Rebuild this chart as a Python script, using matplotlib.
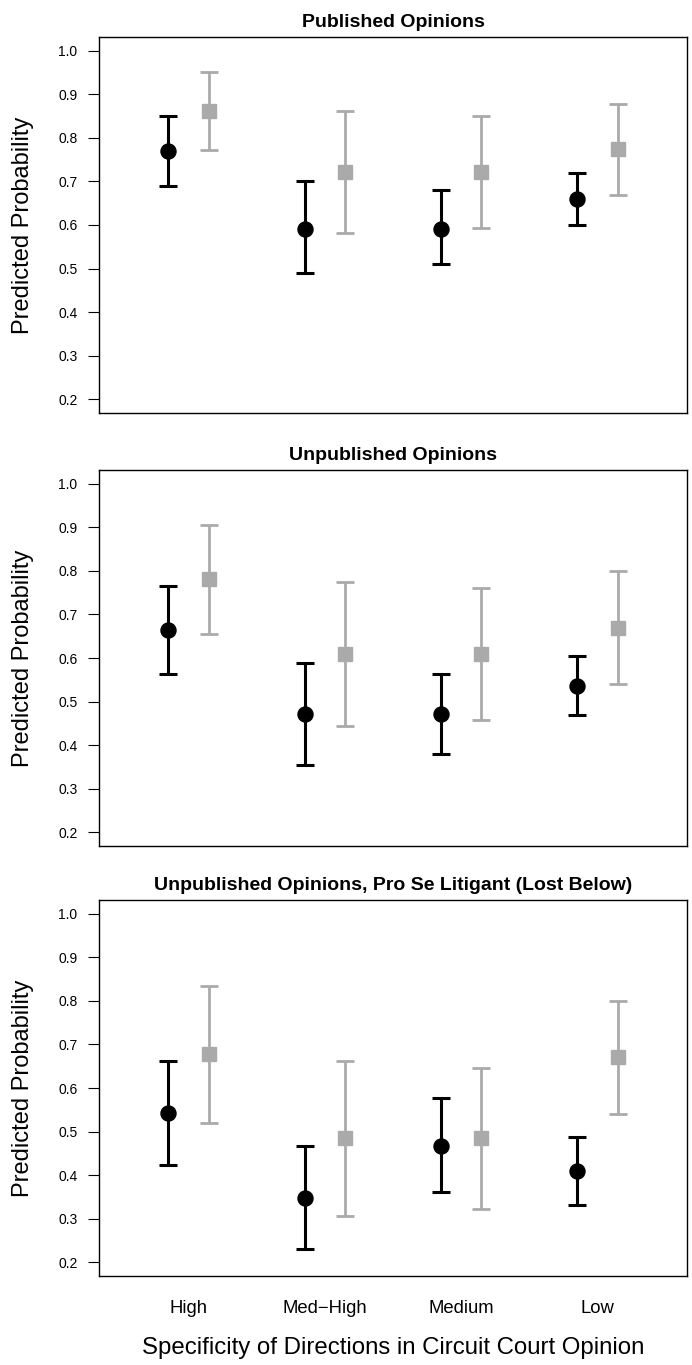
import numpy as np
import matplotlib
matplotlib.use("Agg")
import matplotlib.pyplot as plt

plt.rcParams['font.family'] = ['Liberation Sans', 'DejaVu Sans']

# categories on the x axis
categories = ["High", "Med\u2212High", "Medium", "Low"]
titles = ["Published Opinions",
          "Unpublished Opinions",
          "Unpublished Opinions, Pro Se Litigant (Lost Below)"]

# black circles: estimate, lower, upper
pub_black = [0.77, 0.59, 0.59, 0.66]
pub_black_lo = [0.69, 0.49, 0.51, 0.60]
pub_black_hi = [0.85, 0.70, 0.68, 0.72]
# grey squares
pub_gray = [0.862, 0.722, 0.722, 0.775]
pub_gray_lo = [0.772, 0.582, 0.594, 0.670]
pub_gray_hi = [0.952, 0.862, 0.850, 0.879]

unpub_black = [0.664, 0.471, 0.471, 0.536]
unpub_black_lo = [0.564, 0.354, 0.379, 0.468]
unpub_black_hi = [0.765, 0.589, 0.564, 0.604]
unpub_gray = [0.781, 0.609, 0.609, 0.670]
unpub_gray_lo = [0.656, 0.443, 0.458, 0.540]
unpub_gray_hi = [0.906, 0.775, 0.762, 0.801]

prose_black = [0.542, 0.348, 0.467, 0.410]
prose_black_lo = [0.423, 0.229, 0.360, 0.332]
prose_black_hi = [0.662, 0.467, 0.577, 0.488]
prose_gray = [0.677, 0.484, 0.484, 0.672]
prose_gray_lo = [0.520, 0.305, 0.323, 0.541]
prose_gray_hi = [0.834, 0.663, 0.646, 0.801]

panels = [
    (pub_black, pub_black_lo, pub_black_hi, pub_gray, pub_gray_lo, pub_gray_hi),
    (unpub_black, unpub_black_lo, unpub_black_hi, unpub_gray, unpub_gray_lo, unpub_gray_hi),
    (prose_black, prose_black_lo, prose_black_hi, prose_gray, prose_gray_lo, prose_gray_hi),
]

W, H = 692, 1365
fig = plt.figure(figsize=(W / 100, H / 100), dpi=100)

left = 99 / W
width = 588 / W
ax_h = 376 / H
bottoms = [1 - 413 / H, 1 - 846 / H, 1 - 1276 / H]

gray = "#aaaaaa"
x = np.arange(1, len(categories) + 1)
off = 0.15

for i, (b, b_lo, b_hi, g, g_lo, g_hi) in enumerate(panels):
    ax = fig.add_axes([left, bottoms[i], width, ax_h])
    b = np.array(b)
    g = np.array(g)
    ax.errorbar(x - off, b, yerr=[b - np.array(b_lo), np.array(b_hi) - b],
                fmt='o', color='black', ms=10.8, elinewidth=2.2,
                capsize=6.8, capthick=2.2)
    ax.errorbar(x + off, g, yerr=[g - np.array(g_lo), np.array(g_hi) - g],
                fmt='s', color=gray, ms=10.5, elinewidth=2.0,
                capsize=6.8, capthick=2.0)

    ax.set_xlim(0.34, 4.66)
    ax.set_ylim(0.168, 1.032)
    ax.set_yticks(np.arange(0.2, 1.01, 0.1))
    ax.set_yticklabels([f"{v:.1f}" for v in np.arange(0.2, 1.01, 0.1)])
    ax.tick_params(axis='y', length=8, width=0.8, pad=7.5, labelsize=10)
    ax.set_xticks(x)
    if i == 2:
        ax.set_xticklabels(categories, fontsize=13.3)
    else:
        ax.set_xticklabels([])
    ax.tick_params(axis='x', length=0, pad=17)
    for s in ax.spines.values():
        s.set_linewidth(1.0)

    ax.set_title(titles[i], fontsize=14, fontweight='bold', pad=7)
    ax.text((23 - 99) / 588, 0.5, "Predicted Probability", transform=ax.transAxes,
            rotation=90, ha='center', va='center', fontsize=17)

fig.text(393 / W, 1 - 1348 / H, "Specificity of Directions in Circuit Court Opinion",
         ha='center', va='center', fontsize=17.3)

fig.savefig("out.png", dpi=100)
